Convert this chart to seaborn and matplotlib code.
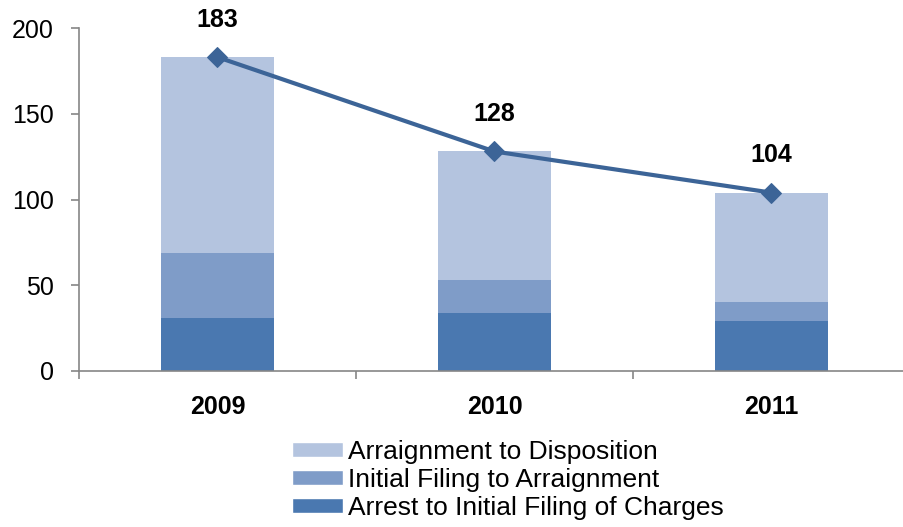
import numpy as np
import pandas as pd
import matplotlib
matplotlib.use("Agg")
import matplotlib.pyplot as plt
import seaborn as sns
from matplotlib.patches import Patch

years = ["2009", "2010", "2011"]
arrest_to_filing = [31, 34, 29]
filing_to_arraignment = [38, 19, 11]
arraignment_to_disposition = [114, 75, 64]
totals = [183, 128, 104]

c_dark = "#4A78B0"
c_mid = "#7F9CC8"
c_light = "#B4C4DF"
c_line = "#3C6497"
c_axis = "#868686"

sns.set_style("white")
plt.rcParams["font.family"] = ["Liberation Sans", "DejaVu Sans"]
plt.rcParams["text.color"] = "black"
plt.rcParams["xtick.color"] = "black"
plt.rcParams["ytick.color"] = "black"

df = pd.DataFrame({
    "year": years,
    "arrest": arrest_to_filing,
    "filing": filing_to_arraignment,
    "arraign": arraignment_to_disposition,
    "total": totals,
})
df["lvl1"] = df["arrest"]
df["lvl2"] = df["arrest"] + df["filing"]
df["lvl3"] = df["lvl2"] + df["arraign"]

fig = plt.figure(figsize=(9.04, 5.27), dpi=100)
ax = fig.add_axes([79 / 904, 156 / 527, 831 / 904, 343 / 527])

# stacked bars: draw cumulative heights back to front
for col, color in [("lvl3", c_light), ("lvl2", c_mid), ("lvl1", c_dark)]:
    sns.barplot(data=df, x="year", y=col, color=color, width=0.405,
                saturation=1, ax=ax, linewidth=0, errorbar=None)

xpos = np.arange(len(years))
sns.lineplot(x=xpos, y=df["total"], ax=ax, color=c_line, linewidth=3,
             marker="D", markersize=10, markeredgecolor=c_line, zorder=5)

for x, v in zip(xpos, totals):
    ax.annotate(str(v), (x, v), xytext=(0, 27), textcoords="offset points",
                ha="center", va="center", fontsize=18, fontweight="bold",
                color="black")

ax.set_xlim(-0.5, 2.5)
ax.set_ylim(0, 200)
ax.set_yticks([0, 50, 100, 150, 200])
ax.set_xlabel("")
ax.set_ylabel("")

for s in ["top", "right"]:
    ax.spines[s].set_visible(False)
for s in ["left", "bottom"]:
    ax.spines[s].set_color(c_axis)
    ax.spines[s].set_linewidth(1.2)

ax.tick_params(axis="y", which="major", left=True, length=6, color=c_axis,
               labelcolor="black", width=1.2, labelsize=18, pad=12)
ax.tick_params(axis="x", which="major", bottom=False, labelcolor="black",
               labelsize=18, pad=14)
ax.set_xticks([-0.5, 0.5, 1.5], minor=True)
ax.tick_params(axis="x", which="minor", bottom=True, length=6, color=c_axis,
               width=1.2)
for lbl in ax.get_xticklabels():
    lbl.set_fontweight("bold")

handles = [
    Patch(facecolor=c_light, label="Arraignment to Disposition"),
    Patch(facecolor=c_mid, label="Initial Filing to Arraignment"),
    Patch(facecolor=c_dark, label="Arrest to Initial Filing of Charges"),
]
fig.legend(handles=handles, loc="upper left", bbox_to_anchor=(292 / 904, 1 - 440 / 527),
           frameon=False, fontsize=19, handlelength=1.93, handleheight=0.47,
           handletextpad=0.2, labelspacing=0.15, borderaxespad=0, borderpad=0,
           labelcolor="black")

fig.savefig("out.png", dpi=100)
